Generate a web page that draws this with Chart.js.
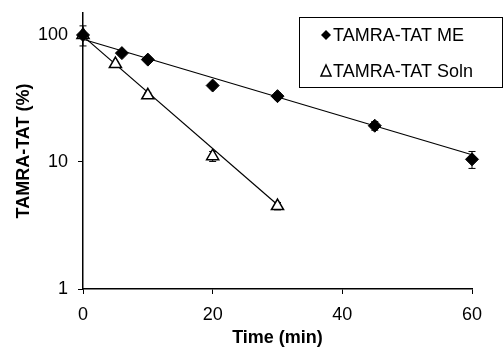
<!DOCTYPE html>
<html>
<head>
<meta charset="utf-8">
<script src="https://cdn.jsdelivr.net/npm/chart.js@4/dist/chart.umd.min.js"></script>
<style>
    html, body { margin: 0; padding: 0; background: #fff; }
    #wrap { width: 504px; height: 347px; }
</style>
</head>
<body>
<div id="wrap"><canvas id="chart" width="504" height="347"></canvas></div>
<script>
// values
const meTime = [0, 6, 10, 20, 30, 45, 60];
const meValue = [100, 72, 64, 40, 33, 19.3, 10.5];
const meError = [18, 2, 2, 2, 2, 1.5, 1.6];

const solnTime = [0, 5, 10, 20, 30];
const solnValue = [100, 59, 33.5, 11.1, 4.5];
const solnError = [3, 2, 1.5, 1, 0.3];

// exponential trend lines (straight on the log axis), end points
const meFitTime = [0, 60];
const meFitValue = [92.5, 11.4];
const solnFitTime = [0, 30];
const solnFitValue = [98, 4.6];

const xTicks = [0, 20, 40, 60];
const yTicks = [1, 10, 100];

const labels = ['TAMRA-TAT ME', 'TAMRA-TAT Soln'];

const FONT = '"Liberation Sans", Arial, sans-serif';

function points(xs, ys) {
    return xs.map((x, i) => ({ x: x, y: ys[i] }));
}

// vertical error bars with small caps, drawn under the markers
const errorBars = {
    id: 'errorBars',
    beforeDatasetsDraw(chart) {
        const ctx = chart.ctx;
        const xs = chart.scales.x;
        const ys = chart.scales.y;
        ctx.save();
        ctx.strokeStyle = '#000';
        ctx.lineWidth = 1;
        chart.data.datasets.forEach(ds => {
            if (!ds.errors) return;
            ds.data.forEach((p, i) => {
                const e = ds.errors[i];
                const px = xs.getPixelForValue(p.x);
                const top = ys.getPixelForValue(p.y + e);
                const bot = ys.getPixelForValue(p.y - e);
                ctx.beginPath();
                ctx.moveTo(px, top);
                ctx.lineTo(px, bot);
                ctx.moveTo(px - 3.5, top);
                ctx.lineTo(px + 3.5, top);
                ctx.moveTo(px - 3.5, bot);
                ctx.lineTo(px + 3.5, bot);
                ctx.stroke();
            });
        });
        ctx.restore();
    }
};

// boxed legend in the top right corner
const boxLegend = {
    id: 'boxLegend',
    afterDraw(chart) {
        const ctx = chart.ctx;
        ctx.save();
        ctx.strokeStyle = '#000';
        ctx.lineWidth = 1;
        ctx.strokeRect(299.5, 17.5, 203, 70);

        ctx.font = '18px ' + FONT;
        ctx.fillStyle = '#000';
        ctx.textBaseline = 'middle';
        ctx.fillText(labels[0], 333, 36);
        ctx.fillText(labels[1], 333, 72);

        // diamond
        ctx.beginPath();
        ctx.moveTo(321, 35);
        ctx.lineTo(326, 30);
        ctx.lineTo(331, 35);
        ctx.lineTo(326, 40);
        ctx.closePath();
        ctx.fill();

        // open triangle
        ctx.lineWidth = 1.5;
        ctx.beginPath();
        ctx.moveTo(326, 65);
        ctx.lineTo(331, 76);
        ctx.lineTo(321, 76);
        ctx.closePath();
        ctx.stroke();
        ctx.restore();
    }
};

new Chart(document.getElementById('chart'), {
    type: 'scatter',
    data: {
        datasets: [
            {
                label: labels[0],
                data: points(meTime, meValue),
                errors: meError,
                pointStyle: 'rectRot',
                pointRadius: 6.5,
                pointBackgroundColor: '#000',
                pointBorderColor: '#000',
                pointBorderWidth: 1,
                showLine: false,
                clip: false
            },
            {
                label: labels[1],
                data: points(solnTime, solnValue),
                errors: solnError,
                pointStyle: 'triangle',
                pointRadius: 7,
                pointBackgroundColor: '#fff',
                pointBorderColor: '#000',
                pointBorderWidth: 1.5,
                showLine: false,
                clip: false
            },
            {
                data: points(meFitTime, meFitValue),
                showLine: true,
                borderColor: '#000',
                borderWidth: 1.2,
                pointRadius: 0,
                clip: false
            },
            {
                data: points(solnFitTime, solnFitValue),
                showLine: true,
                borderColor: '#000',
                borderWidth: 1.2,
                pointRadius: 0,
                clip: false
            }
        ]
    },
    options: {
        responsive: false,
        animation: false,
        events: [],
        layout: { padding: { top: 13, right: 32, left: 0, bottom: 0 } },
        plugins: {
            legend: { display: false },
            tooltip: { enabled: false }
        },
        scales: {
            x: {
                type: 'linear',
                min: 0,
                max: 60,
                afterBuildTicks: scale => { scale.ticks = xTicks.map(v => ({ value: v })); },
                afterFit: scale => { scale.height = 58; },
                border: { display: true, color: '#000', width: 1.5 },
                grid: { drawOnChartArea: false, drawTicks: true, tickLength: 5, color: '#000', lineWidth: 1 },
                ticks: {
                    color: '#000',
                    padding: 10,
                    maxRotation: 0,
                    font: { family: FONT, size: 18 }
                },
                title: {
                    display: true,
                    text: 'Time (min)',
                    color: '#000',
                    padding: { top: 0, bottom: -2 },
                    font: { family: FONT, size: 18, weight: 'bold' }
                }
            },
            y: {
                type: 'logarithmic',
                min: 1,
                max: 149,
                afterBuildTicks: scale => { scale.ticks = yTicks.map(v => ({ value: v })); },
                afterFit: scale => {
                    scale.width = 83;
                    scale.paddingTop = 0;
                    scale.paddingBottom = 0;
                },
                border: { display: true, color: '#000', width: 1.5 },
                grid: { drawOnChartArea: false, drawTicks: true, tickLength: 5, color: '#000', lineWidth: 1 },
                ticks: {
                    color: '#000',
                    padding: 10,
                    font: { family: FONT, size: 18 },
                    callback: v => String(v)
                },
                title: {
                    display: true,
                    text: 'TAMRA-TAT (%)',
                    color: '#000',
                    padding: { top: 13, bottom: 0 },
                    font: { family: FONT, size: 18, weight: 'bold' }
                }
            }
        }
    },
    plugins: [errorBars, boxLegend]
});
</script>
</body>
</html>
